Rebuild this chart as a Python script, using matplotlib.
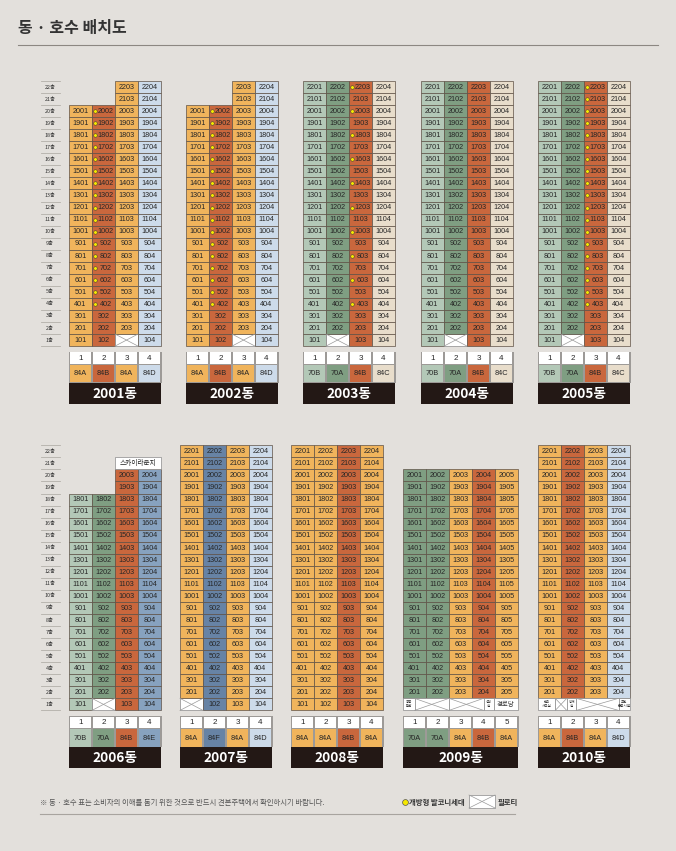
import matplotlib
matplotlib.use('Agg')
import matplotlib.pyplot as plt
from matplotlib.patches import Rectangle

plt.rcParams['font.family'] = ['Noto Sans CJK KR', 'DejaVu Sans']

# ---------------- data ----------------
TITLE = '동 · 호수 배치도'
NOTE = '※ 동 · 호수 표는 소비자의 이해를 돕기 위한 것으로 반드시 견본주택에서 확인하시기 바랍니다.'
LEGEND_DOT = '개방형 발코니세대'
LEGEND_PILOTI = '필로티'
FLOORS = [22, 21, 20, 19, 18, 17, 16, 15, 14, 13, 12, 11, 10, 9, 8, 7, 6, 5, 4, 3, 2, 1]

NAMES_TOP = ['2001동', '2002동', '2003동', '2004동', '2005동']
NAMES_BOTTOM = ['2006동', '2007동', '2008동', '2009동', '2010동']

TYPES_2001 = ['84A', '84B', '84A', '84D']
TYPES_2002 = ['84A', '84B', '84A', '84D']
TYPES_2003 = ['70B', '70A', '84B', '84C']
TYPES_2004 = ['70B', '70A', '84B', '84C']
TYPES_2005 = ['70B', '70A', '84B', '84C']
TYPES_2006 = ['70B', '70A', '84B', '84E']
TYPES_2007 = ['84A', '84F', '84A', '84D']
TYPES_2008 = ['84A', '84A', '84B', '84A']
TYPES_2009 = ['70A', '70A', '84A', '84B', '84A']
TYPES_2010 = ['84A', '84B', '84A', '84D']

# highest floor of each line (column)
TOPF_2001 = [20, 20, 22, 22]
TOPF_2002 = [20, 20, 22, 22]
TOPF_2003 = [22, 22, 22, 22]
TOPF_2004 = [22, 22, 22, 22]
TOPF_2005 = [22, 22, 22, 22]
TOPF_2006 = [18, 18, 20, 20]
TOPF_2007 = [22, 22, 22, 22]
TOPF_2008 = [22, 22, 22, 22]
TOPF_2009 = [20, 20, 20, 20, 20]
TOPF_2010 = [22, 22, 22, 22]

# lines whose 1st floor is piloti
PILOTI_2001 = [3]
PILOTI_2002 = [3]
PILOTI_2003 = [2]
PILOTI_2004 = [2]
PILOTI_2005 = [2]
PILOTI_2006 = [2]
PILOTI_2007 = [1]
PILOTI_2008 = []

# open-balcony units: line -> floors
DOTS_2001 = {2: [4, 5, 6, 7, 8, 9, 10, 11, 12, 13, 14, 15, 16, 17, 18, 19, 20]}
DOTS_2002 = {2: [4, 5, 6, 7, 8, 9, 10, 11, 12, 13, 14, 15, 16, 17, 18, 19, 20]}
DOTS_2003 = {3: [4, 6, 8, 10, 12, 14, 16, 18, 20, 22]}
DOTS_2004 = {}
DOTS_2005 = {3: [4, 5, 6, 7, 8, 9, 10, 11, 12, 13, 14, 15, 16, 17, 18, 19, 20, 21, 22]}

# special ground floors (label, width in lines); 'X' = piloti
GROUND_2009_LABELS = ['공동\n현관', 'X', 'X', '경비\n실', '경로당']
GROUND_2009_WIDTHS = [0.5, 1.5, 1.5, 0.45, 1.05]
GROUND_2010_LABELS = ['관리\n사무실', 'X', '방재\n실', 'X', '주민\n운동시설']
GROUND_2010_WIDTHS = [0.75, 0.5, 0.42, 1.83, 0.5]

SKY_LOUNGE = '스카이라운지'

TYPE_COLORS = {
    '84A': '#f0b45c', '84B': '#c9673d', '84D': '#cddbea', '70B': '#b3c8b7',
    '70A': '#7f9e82', '84C': '#e8ddcb', '84E': '#87a2bf', '84F': '#6783a5',
}

# ---------------- layout ----------------
W, H = 676, 851
BG = '#e3e0dc'
CW = 23.0
RH = 12.05
TOP_Y = 81.0
BOT_Y = 445.3
TOP_X = [69, 186, 303, 421, 538]
BOT_X = [69, 180, 291, 403, 538]
EDGE = '#5e5146'
TXT = '#262626'
NUMFONT = ['Liberation Sans', 'DejaVu Sans']

fig = plt.figure(figsize=(W / 100, H / 100), dpi=100)
fig.patch.set_facecolor(BG)
ax = fig.add_axes([0, 0, 1, 1])
ax.set_xlim(0, W)
ax.set_ylim(H, 0)
ax.axis('off')
ax.set_facecolor(BG)


def piloti_cell(x, y, w, h):
    ax.add_patch(Rectangle((x, y), w, h, facecolor='white', edgecolor='#8a8a8a', lw=0.5, zorder=2))
    ax.plot([x, x + w], [y, y + h], color='#9a9a9a', lw=0.5, zorder=3)
    ax.plot([x, x + w], [y + h, y], color='#9a9a9a', lw=0.5, zorder=3)


def floor_labels(ytop):
    for i, f in enumerate(FLOORS):
        yc = ytop + (i + 0.5) * RH
        ax.text(50, yc, f'{f}층', fontsize=3.9, ha='center', va='center', color='#333333')
    for i in range(len(FLOORS) + 1):
        y = ytop + i * RH
        ax.plot([41, 60], [y, y], color='#b3afa9', lw=0.6)


def draw_building(x0, ytop, name, types, topf, piloti=(), dots=None, ground=None):
    dots = dots or {}
    n = len(types)
    for c in range(1, n + 1):
        col = TYPE_COLORS[types[c - 1]]
        x = x0 + (c - 1) * CW
        for f in range(1, topf[c - 1] + 1):
            y = ytop + (22 - f) * RH
            if f == 1 and ground is not None:
                continue
            if f == 1 and c in piloti:
                piloti_cell(x, y, CW, RH)
                continue
            ax.add_patch(Rectangle((x, y), CW, RH, facecolor=col, edgecolor=EDGE, lw=0.5, zorder=2))
            label = f'{f}{c:02d}'
            if f in dots.get(c, []):
                ax.plot(x + 3.4, y + RH / 2, 'o', ms=2.6, mfc='#f5e800', mec='#3a3a3a', mew=0.35, zorder=4)
                ax.text(x + CW / 2 + 2.0, y + RH / 2 + 0.3, label, fontsize=5.2, ha='center', va='center',
                        color=TXT, family=NUMFONT, zorder=4)
            else:
                ax.text(x + CW / 2, y + RH / 2 + 0.3, label, fontsize=5.2, ha='center', va='center',
                        color=TXT, family=NUMFONT, zorder=4)
    if ground is not None:
        labels, widths = ground
        x = x0
        y = ytop + 21 * RH
        for lab, w in zip(labels, widths):
            ww = w * CW
            if lab == 'X':
                piloti_cell(x, y, ww, RH)
            else:
                ax.add_patch(Rectangle((x, y), ww, RH, facecolor='white', edgecolor='#8a8a8a', lw=0.5, zorder=2))
                fs = 4.6 if lab == '경로당' else 2.5
                ax.text(x + ww / 2, y + RH / 2, lab, fontsize=fs, ha='center', va='center', color='#333333',
                        linespacing=1.0, zorder=4)
            x += ww
    base = ytop + 22 * RH
    # numbers + type rows
    ax.add_patch(Rectangle((x0 - 0.5, base + 5.5), n * CW + 1, 31.5, facecolor='#9d9a97', edgecolor='none', zorder=1))
    for c in range(1, n + 1):
        x = x0 + (c - 1) * CW
        ax.add_patch(Rectangle((x + 0.6, base + 6.2), CW - 1.2, 11.4, facecolor='white', edgecolor='none', zorder=2))
        ax.text(x + CW / 2, base + 12.0, str(c), fontsize=5.8, ha='center', va='center', color=TXT,
                family=NUMFONT, zorder=3)
        ax.add_patch(Rectangle((x + 0.6, base + 18.6), CW - 1.2, 17.6, facecolor=TYPE_COLORS[types[c - 1]],
                               edgecolor='none', zorder=2))
        ax.text(x + CW / 2, base + 27.6, types[c - 1], fontsize=5.3, ha='center', va='center', color=TXT,
                family=NUMFONT, zorder=3)
    ax.add_patch(Rectangle((x0, base + 37), n * CW, 20.5, facecolor='#231815', edgecolor='none', zorder=2))
    ax.text(x0 + n * CW / 2, base + 47.5, name, fontsize=9.8, fontweight='bold', ha='center', va='center',
            color='white', zorder=3)


# title
ax.text(18, 28, TITLE, fontsize=11.5, fontweight='bold', ha='left', va='center', color='#333333')
ax.plot([18, 658], [45, 45], color='#8c8782', lw=0.8)

floor_labels(TOP_Y)
floor_labels(BOT_Y)

top_sets = [
    (TYPES_2001, TOPF_2001, PILOTI_2001, DOTS_2001),
    (TYPES_2002, TOPF_2002, PILOTI_2002, DOTS_2002),
    (TYPES_2003, TOPF_2003, PILOTI_2003, DOTS_2003),
    (TYPES_2004, TOPF_2004, PILOTI_2004, DOTS_2004),
    (TYPES_2005, TOPF_2005, PILOTI_2005, DOTS_2005),
]
for x0, name, (t, tf, p, d) in zip(TOP_X, NAMES_TOP, top_sets):
    draw_building(x0, TOP_Y, name, t, tf, p, d)

draw_building(BOT_X[0], BOT_Y, NAMES_BOTTOM[0], TYPES_2006, TOPF_2006, PILOTI_2006)
draw_building(BOT_X[1], BOT_Y, NAMES_BOTTOM[1], TYPES_2007, TOPF_2007, PILOTI_2007)
draw_building(BOT_X[2], BOT_Y, NAMES_BOTTOM[2], TYPES_2008, TOPF_2008, PILOTI_2008)
draw_building(BOT_X[3], BOT_Y, NAMES_BOTTOM[3], TYPES_2009, TOPF_2009,
              ground=(GROUND_2009_LABELS, GROUND_2009_WIDTHS))
draw_building(BOT_X[4], BOT_Y, NAMES_BOTTOM[4], TYPES_2010, TOPF_2010,
              ground=(GROUND_2010_LABELS, GROUND_2010_WIDTHS))

# sky lounge label on 2006
sx = BOT_X[0] + 2 * CW
sy = BOT_Y + 1 * RH
ax.add_patch(Rectangle((sx, sy), 2 * CW, RH, facecolor='white', edgecolor='#8a8a8a', lw=0.5, zorder=2))
ax.text(sx + CW, sy + RH / 2, SKY_LOUNGE, fontsize=4.8, ha='center', va='center', color='#222222', zorder=3)

# footnote and legend
ax.text(40, 803, NOTE, fontsize=5.3, ha='left', va='center', color='#555555')
ax.plot(405, 802, 'o', ms=4.2, mfc='#f5e800', mec='#555555', mew=0.5)
ax.text(409, 802, LEGEND_DOT, fontsize=5.3, ha='left', va='center', color='#333333', fontweight='bold')
piloti_cell(469, 795, 26, 13)
ax.text(498, 802, LEGEND_PILOTI, fontsize=5.3, ha='left', va='center', color='#333333', fontweight='bold')
ax.plot([40, 515], [814, 814], color='#a8a49f', lw=0.8)

fig.savefig('out.png', dpi=100, facecolor=BG)
